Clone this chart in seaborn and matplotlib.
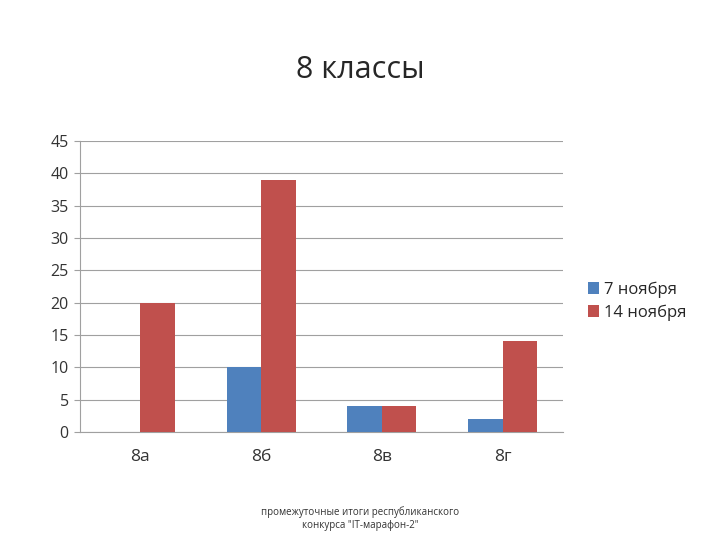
import matplotlib
matplotlib.use("Agg")
import matplotlib.pyplot as plt
import seaborn as sns
import pandas as pd

classes = ["8а", "8б", "8в", "8г"]
nov7 = [0, 10, 4, 2]
nov14 = [20, 39, 4, 14]
series = ["7 ноября", "14 ноября"]
colors = ["#4f81bd", "#c0504d"]

df = pd.DataFrame({
    "class": classes * 2,
    "value": nov7 + nov14,
    "series": [series[0]] * 4 + [series[1]] * 4,
})

sns.set_style("white")
plt.rcParams["font.family"] = ["Open Sans", "DejaVu Sans"]

fig = plt.figure(figsize=(7.2, 5.4), dpi=100)
ax = fig.add_axes([0.111, 0.2, 0.671, 0.539])
sns.barplot(data=df, x="class", y="value", hue="series", palette=colors,
            width=0.57, saturation=1, linewidth=0, ax=ax, zorder=3)

ax.set_ylim(0, 45)
ax.set_yticks(range(0, 46, 5))
ax.set_xlim(-0.5, 3.5)
ax.yaxis.grid(True, color="#a0a0a0", lw=0.8, zorder=0)
ax.set_xlabel("")
ax.set_ylabel("")
for s in ["top", "right"]:
    ax.spines[s].set_visible(False)
for s in ["left", "bottom"]:
    ax.spines[s].set_color("#a0a0a0")
ax.tick_params(axis="both", labelsize=11.5, colors="#333333", length=0, pad=8)
ax.tick_params(axis="y", length=4, color="#a0a0a0", left=True, pad=4)
ax.set_xticks(range(4))
ax.set_xticklabels(classes, fontsize=12.5)
ax.tick_params(axis="x", pad=12)

leg = ax.legend(loc="center left", bbox_to_anchor=(1.02, 0.45), frameon=False,
                fontsize=12, handlelength=0.7, handleheight=0.7,
                handletextpad=0.3, labelspacing=0.4)

fig.text(0.5, 0.87, "8 классы", ha="center", va="center", fontsize=22)
fig.text(0.5, 0.04, 'промежуточные итоги республиканского\nконкурса "IT-марафон-2"',
         ha="center", va="center", fontsize=7, color="#333333")

fig.savefig("out.png", dpi=100)
